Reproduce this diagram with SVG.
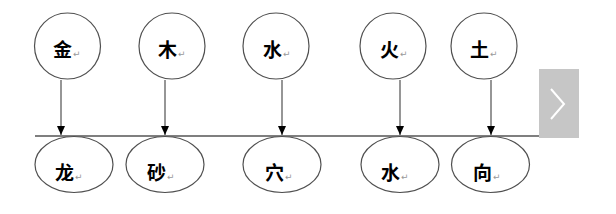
<svg xmlns="http://www.w3.org/2000/svg" width="616" height="214" viewBox="0 0 616 214">
<style>
.n{fill:#fff;stroke:#505050;stroke-width:1.2}
.t{font-family:"Noto Sans CJK SC","Noto Sans CJK JP",sans-serif;font-size:19px;font-weight:bold;fill:#000}
.r{font-family:"DejaVu Sans",sans-serif;font-size:9px;font-weight:normal;fill:#999}
.c{stroke:#505050;stroke-width:1.2;fill:none;marker-end:url(#ah)}
</style>
<defs>
<marker id="ah" markerWidth="10" markerHeight="10" refX="9" refY="5" orient="auto" markerUnits="userSpaceOnUse">
<path d="M0,1 L9,5 L0,9 Z" fill="#000"/>
</marker>
</defs>
<rect width="616" height="214" fill="#fff"/>
<g id="connectors">
<line x1="35" y1="136" x2="569" y2="136" stroke="#000" stroke-width="1.2"/>
<line class="c" x1="61" y1="80" x2="61" y2="135"/>
<line class="c" x1="165" y1="80" x2="165" y2="135"/>
<line class="c" x1="282" y1="80" x2="282" y2="135"/>
<line class="c" x1="400" y1="80" x2="400" y2="135"/>
<line class="c" x1="491" y1="80" x2="491" y2="135"/>
</g>
<g id="n-jin"><circle class="n" cx="67.5" cy="46" r="33"/><text class="t" x="53" y="57">金<tspan class="r" dx="1">↵</tspan></text></g>
<g id="n-mu"><circle class="n" cx="172" cy="46" r="33"/><text class="t" x="158" y="57">木<tspan class="r" dx="1">↵</tspan></text></g>
<g id="n-shui"><circle class="n" cx="276" cy="46" r="33"/><text class="t" x="263" y="57">水<tspan class="r" dx="1">↵</tspan></text></g>
<g id="n-huo"><circle class="n" cx="393" cy="46" r="33"/><text class="t" x="380" y="57">火<tspan class="r" dx="1">↵</tspan></text></g>
<g id="n-tu"><circle class="n" cx="484" cy="46" r="33"/><text class="t" x="470" y="57">土<tspan class="r" dx="1">↵</tspan></text></g>
<g id="n-long"><ellipse class="n" cx="74" cy="164.5" rx="39" ry="28"/><text class="t" x="55" y="180">龙<tspan class="r" dx="1">↵</tspan></text></g>
<g id="n-sha"><ellipse class="n" cx="165" cy="164.5" rx="39" ry="28"/><text class="t" x="147" y="180">砂<tspan class="r" dx="1">↵</tspan></text></g>
<g id="n-xue"><ellipse class="n" cx="282" cy="164.5" rx="39" ry="28"/><text class="t" x="265" y="180">穴<tspan class="r" dx="1">↵</tspan></text></g>
<g id="n-shui2"><ellipse class="n" cx="400" cy="164.5" rx="39" ry="28"/><text class="t" x="381" y="180">水<tspan class="r" dx="1">↵</tspan></text></g>
<g id="n-xiang"><ellipse class="n" cx="490.5" cy="164.5" rx="39" ry="28"/><text class="t" x="473" y="180">向<tspan class="r" dx="1">↵</tspan></text></g>
<g id="next-button">
<rect x="539" y="69" width="40" height="69" fill="#c6c6c6"/>
<path d="M551,89 L564,104 L551,119" fill="none" stroke="#fff" stroke-width="2"/>
</g>
</svg>
